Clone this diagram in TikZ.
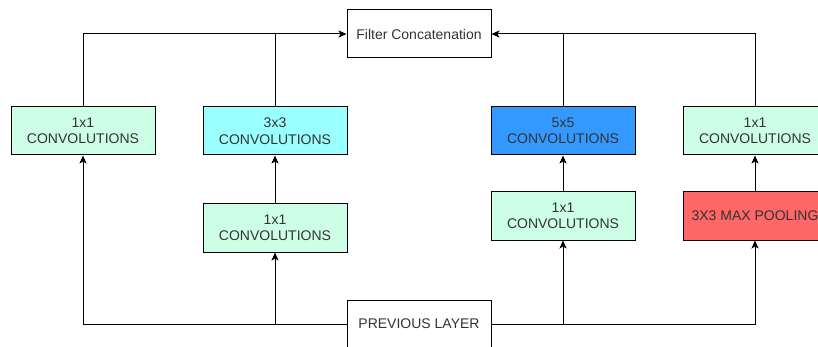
\documentclass[tikz,border=0pt]{standalone}
\usepackage{fontspec}
\setmainfont{Liberation Sans}
\usetikzlibrary{arrows.meta}
\definecolor{cgreen}{HTML}{CCFFE6}
\definecolor{ccyan}{HTML}{99FFFF}
\definecolor{cblue}{HTML}{3399FF}
\definecolor{cred}{HTML}{FF6666}
\definecolor{ctext}{HTML}{333333}
\begin{document}
\begin{tikzpicture}[x=1pt,y=-1pt,
  box/.style={draw=black,line width=1pt,minimum width=144pt,minimum height=48pt,inner sep=0pt,
    align=center,text=ctext,font=\fontsize{14}{16.5}\selectfont},
  conn/.style={draw=black,line width=1pt},
  arr/.style={conn,-{Stealth[length=8pt,width=7pt,inset=2pt]}}]
\useasboundingbox (0,0) rectangle (818,347);
\clip (0,0) rectangle (818,347);
\fill[white] (0,0) rectangle (818,347);
\node[box,fill=white] (fc) at (419,34) {Filter Concatenation};
\node[box,fill=cgreen] (l1) at (83,131) {1x1\\CONVOLUTIONS};
\node[box,fill=ccyan] (c3) at (275,131) {3x3\\CONVOLUTIONS};
\node[box,fill=cblue] (c5) at (563,131) {5x5\\CONVOLUTIONS};
\node[box,fill=cgreen] (r1) at (755,131) {1x1\\CONVOLUTIONS};
\node[box,fill=cgreen] (m1) at (275,228) {1x1\\CONVOLUTIONS};
\node[box,fill=cgreen] (m2) at (563,216) {1x1\\CONVOLUTIONS};
\node[box,fill=cred] (mp) at (755,216) {3X3 MAX POOLING};
\node[box,fill=white] (pl) at (419,324) {PREVIOUS LAYER};
% top connectors
\draw[arr] (l1.north) |- (fc.west);
\draw[conn] (c3.north) -- (c3.north |- fc.west);
\draw[arr] (r1.north) |- (fc.east);
\draw[conn] (c5.north) -- (c5.north |- fc.east);
% middle
\draw[arr] (m1.north) -- (c3.south);
\draw[arr] (m2.north) -- (c5.south);
\draw[arr] (mp.north) -- (r1.south);
% bottom
\draw[arr] (pl.west) -| (l1.south);
\draw[arr] (m1.south |- pl.west) -- (m1.south);
\draw[arr] (pl.east) -| (mp.south);
\draw[arr] (m2.south |- pl.east) -- (m2.south);
\end{tikzpicture}
\end{document}
